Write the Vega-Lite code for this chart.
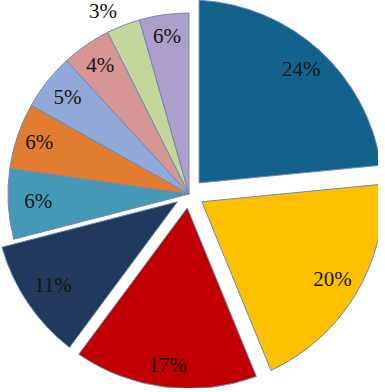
{
  "$schema": "https://vega.github.io/schema/vega-lite/v6.json",
  "width": 378,
  "height": 388,
  "padding": 0,
  "autosize": {"type": "none"},
  "background": "#ffffff",
  "view": {"stroke": null},
  "data": {
    "values": [
      {"id": 1, "label": "24%", "share": 23.4},
      {"id": 2, "label": "20%", "share": 20.3},
      {"id": 3, "label": "17%", "share": 16.3},
      {"id": 4, "label": "11%", "share": 10.8},
      {"id": 5, "label": "6%", "share": 6.25},
      {"id": 6, "label": "6%", "share": 5.9},
      {"id": 7, "label": "5%", "share": 5.0},
      {"id": 8, "label": "4%", "share": 4.4},
      {"id": 9, "label": "3%", "share": 3.0},
      {"id": 10, "label": "6%", "share": 4.4}
    ]
  },
  "encoding": {
    "theta": {"field": "share", "type": "quantitative", "stack": true},
    "order": {"field": "id", "type": "quantitative"}
  },
  "layer": [
    {
      "mark": {
        "type": "arc",
        "stroke": "#6F88B2",
        "strokeWidth": 1,
        "padAngle": {"expr": "datum.id == 1 ? 0.1036 : datum.id == 2 ? 0.0917 : datum.id == 3 ? 0.0705 : datum.id == 4 ? 0.0479 : 0"},
        "radius": {"expr": "datum.id == 1 ? 194 : datum.id <= 4 ? 194.5 : 181"},
        "radius2": {"expr": "datum.id <= 2 ? 15 : datum.id <= 4 ? 14 : 0"}
      },
      "encoding": {
        "color": {
          "field": "id",
          "type": "nominal",
          "legend": null,
          "scale": {
            "domain": [1, 2, 3, 4, 5, 6, 7, 8, 9, 10],
            "range": ["#13628B", "#FFC000", "#C00000", "#21395C", "#4599B6", "#E27C30", "#91A9D8", "#D79694", "#C3D69B", "#AC9FCB"]
          }
        }
      }
    },
    {
      "mark": {
        "type": "text",
        "font": "Liberation Serif",
        "fontSize": 21,
        "color": "#141414",
        "align": "center",
        "baseline": "middle",
        "dx": {"expr": "datum.id == 9 ? -12 : 0"},
        "dy": {"expr": "datum.id == 9 ? 8 : 0"},
        "radius": {"expr": "datum.id == 1 ? 167 : datum.id == 2 ? 167.5 : datum.id == 3 ? 173 : datum.id == 4 ? 164 : datum.id == 5 ? 151 : datum.id == 6 ? 158 : datum.id == 7 ? 155 : datum.id == 8 ? 156 : datum.id == 9 ? 204 : 159"}
      },
      "encoding": {
        "text": {"field": "label", "type": "nominal"}
      }
    }
  ]
}
